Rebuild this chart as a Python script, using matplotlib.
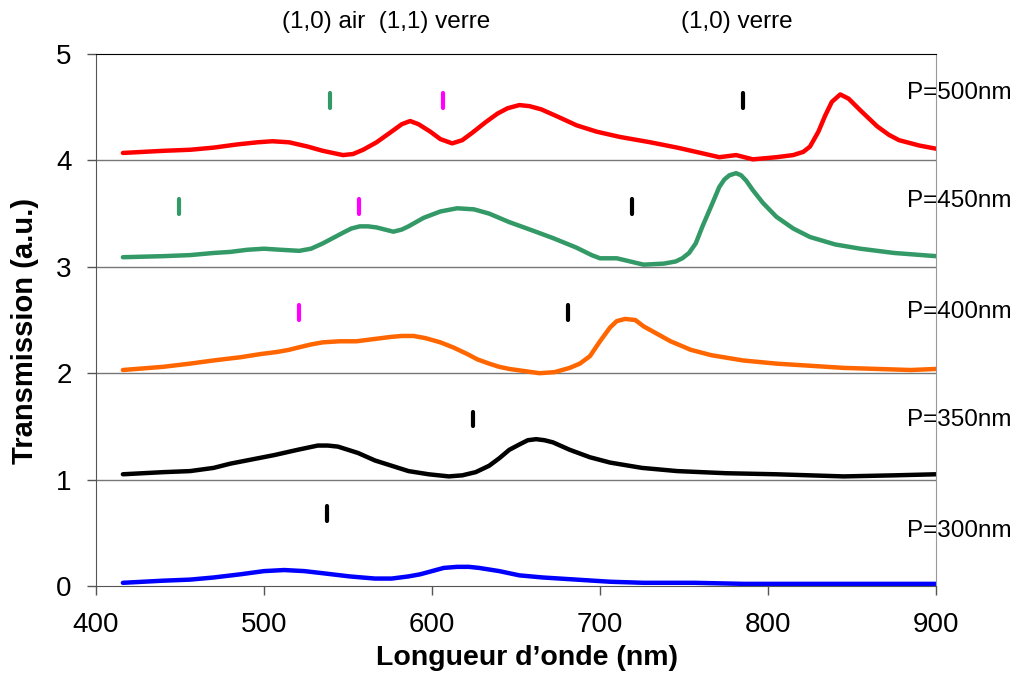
import matplotlib
matplotlib.use("Agg")
import matplotlib.pyplot as plt

plt.rcParams['font.family'] = ['Liberation Sans', 'DejaVu Sans']

# spectra (wavelength in nm, transmission offset by 1 per period)
wl_500 = [416, 440, 456, 470, 484, 496, 505, 515, 526, 535, 547, 553, 559, 567, 575, 582, 587, 592, 599, 605,
          612, 618, 624, 632, 639, 645, 652, 658, 665, 675, 686, 698, 712, 730, 746, 760, 771, 781, 791, 805,
          815, 821, 825, 830, 834, 838, 843, 848, 855, 865, 872, 878, 890, 900]
T_500 = [4.07, 4.09, 4.10, 4.12, 4.15, 4.17, 4.18, 4.17, 4.13, 4.09, 4.05, 4.06, 4.10, 4.17, 4.26, 4.34, 4.37, 4.34, 4.27, 4.20,
         4.16, 4.19, 4.26, 4.36, 4.44, 4.49, 4.52, 4.51, 4.48, 4.41, 4.33, 4.27, 4.22, 4.17, 4.12, 4.07, 4.03, 4.05, 4.01, 4.03,
         4.05, 4.08, 4.13, 4.27, 4.42, 4.55, 4.62, 4.58, 4.47, 4.32, 4.24, 4.19, 4.14, 4.11]

wl_450 = [416, 440, 456, 470, 480, 490, 500, 510, 521, 528, 535, 541, 547, 552, 557, 562, 567, 572, 577, 582,
          586, 595, 605, 615, 625, 634, 646, 660, 672, 686, 695, 700, 710, 718, 726, 738, 745, 749, 753, 757,
          761, 764, 767, 771, 774, 777, 781, 784, 787, 791, 797, 805, 815, 825, 840, 855, 875, 900]
T_450 = [3.09, 3.10, 3.11, 3.13, 3.14, 3.16, 3.17, 3.16, 3.15, 3.17, 3.22, 3.27, 3.32, 3.36, 3.38, 3.38, 3.37, 3.35, 3.33, 3.35,
         3.38, 3.46, 3.52, 3.55, 3.54, 3.50, 3.42, 3.34, 3.27, 3.18, 3.11, 3.08, 3.08, 3.05, 3.02, 3.03, 3.05, 3.08, 3.13, 3.22,
         3.38, 3.49, 3.60, 3.75, 3.82, 3.86, 3.88, 3.86, 3.81, 3.72, 3.60, 3.47, 3.36, 3.28, 3.21, 3.17, 3.13, 3.10]

wl_400 = [416, 440, 456, 470, 486, 498, 508, 515, 520, 528, 535, 545, 555, 565, 575, 582, 589, 596, 605, 613,
          621, 627, 634, 640, 646, 655, 664, 673, 682, 688, 694, 700, 706, 710, 715, 721, 726, 734, 742, 754,
          766, 785, 805, 825, 845, 865, 885, 900]
T_400 = [2.03, 2.06, 2.09, 2.12, 2.15, 2.18, 2.20, 2.22, 2.24, 2.27, 2.29, 2.30, 2.30, 2.32, 2.34, 2.35, 2.35, 2.33, 2.29, 2.24,
         2.18, 2.13, 2.09, 2.06, 2.04, 2.02, 2.00, 2.01, 2.05, 2.09, 2.16, 2.30, 2.43, 2.49, 2.51, 2.50, 2.44, 2.37, 2.30, 2.22,
         2.17, 2.12, 2.09, 2.07, 2.05, 2.04, 2.03, 2.04]

wl_350 = [416, 440, 456, 470, 480, 493, 506, 520, 526, 532, 538, 544, 550, 556, 566, 576, 586, 598, 610, 618,
          626, 634, 640, 646, 652, 657, 662, 667, 672, 682, 694, 706, 725, 746, 775, 805, 845, 875, 900]
T_350 = [1.05, 1.07, 1.08, 1.11, 1.15, 1.19, 1.23, 1.28, 1.30, 1.32, 1.32, 1.31, 1.28, 1.25, 1.18, 1.13, 1.08, 1.05, 1.03, 1.04,
         1.07, 1.13, 1.20, 1.28, 1.33, 1.37, 1.38, 1.37, 1.35, 1.28, 1.21, 1.16, 1.11, 1.08, 1.06, 1.05, 1.03, 1.04, 1.05]

wl_300 = [416, 440, 456, 470, 486, 500, 512, 524, 535, 551, 566, 576, 586, 593, 600, 607, 615, 622, 628, 640,
          652, 666, 686, 706, 726, 756, 786, 830, 870, 900]
T_300 = [0.03, 0.05, 0.06, 0.08, 0.11, 0.14, 0.15, 0.14, 0.12, 0.09, 0.07, 0.07, 0.09, 0.11, 0.14, 0.17, 0.18, 0.18, 0.17, 0.14,
         0.10, 0.08, 0.06, 0.04, 0.03, 0.03, 0.02, 0.02, 0.02, 0.02]

# mode positions marked with small bars
mark_x = [539, 606.5, 785, 449.5, 556.5, 719, 521, 681, 624.5, 537.5]
mark_y = [4.56, 4.56, 4.56, 3.57, 3.57, 3.57, 2.57, 2.57, 1.57, 0.68]
mark_c = ['#339966', '#ff00ff', 'black', '#339966', '#ff00ff', 'black', '#ff00ff', 'black', 'black', 'black']

periods = ['P=500nm', 'P=450nm', 'P=400nm', 'P=350nm', 'P=300nm']
period_y = [4.58, 3.56, 2.52, 1.50, 0.46]

fig = plt.figure(figsize=(10.32, 6.73), dpi=100)
ax = fig.add_axes([96 / 1032, 1 - 586 / 673, 840 / 1032, 532 / 673])

ax.plot(wl_500, T_500, color='#ff0000', lw=3.2, solid_capstyle='round')
ax.plot(wl_450, T_450, color='#339966', lw=3.2, solid_capstyle='round')
ax.plot(wl_400, T_400, color='#ff6600', lw=3.2, solid_capstyle='round')
ax.plot(wl_350, T_350, color='black', lw=3.2, solid_capstyle='round')
ax.plot(wl_300, T_300, color='#0000ff', lw=3.2, solid_capstyle='round')

bars = ax.vlines(mark_x, [y - 0.07 for y in mark_y], [y + 0.07 for y in mark_y], colors=mark_c, lw=3)
bars.set_capstyle('round')

for lab, y in zip(periods, period_y):
    ax.text(883, y, lab, fontsize=17.5, ha='left', va='baseline', clip_on=False)

ax.text(510.5, 5.24, '(1,0) air  (1,1) verre', fontsize=17.5, ha='left', va='baseline')
ax.text(748.5, 5.24, '(1,0) verre', fontsize=17.5, ha='left', va='baseline')

ax.set_xlim(400, 900)
ax.set_ylim(0, 5)
ax.set_xticks([400, 500, 600, 700, 800, 900])
ax.set_yticks([0, 1, 2, 3, 4, 5])
for y in [1, 2, 3, 4]:
    ax.axhline(y, color='#777777', lw=1, zorder=0)

ax.spines['top'].set_color('black')
ax.spines['left'].set_color('#555555')
ax.spines['bottom'].set_color('#555555')
ax.spines['right'].set_color('#999999')
ax.tick_params(direction='out', length=6.5, width=1, color='#555555', labelsize=20)
ax.tick_params(axis='x', pad=12)
ax.tick_params(axis='y', pad=11)

fig.text(526.5 / 1032, 1 - 665 / 673, 'Longueur d\u2019onde (nm)', fontsize=20.5, fontweight='bold',
         ha='center', va='baseline')
fig.text(25 / 1032, 1 - 331 / 673, 'Transmission (a.u.)', fontsize=21, fontweight='bold',
         rotation=90, ha='center', va='center')

fig.savefig('out.png', dpi=100)
